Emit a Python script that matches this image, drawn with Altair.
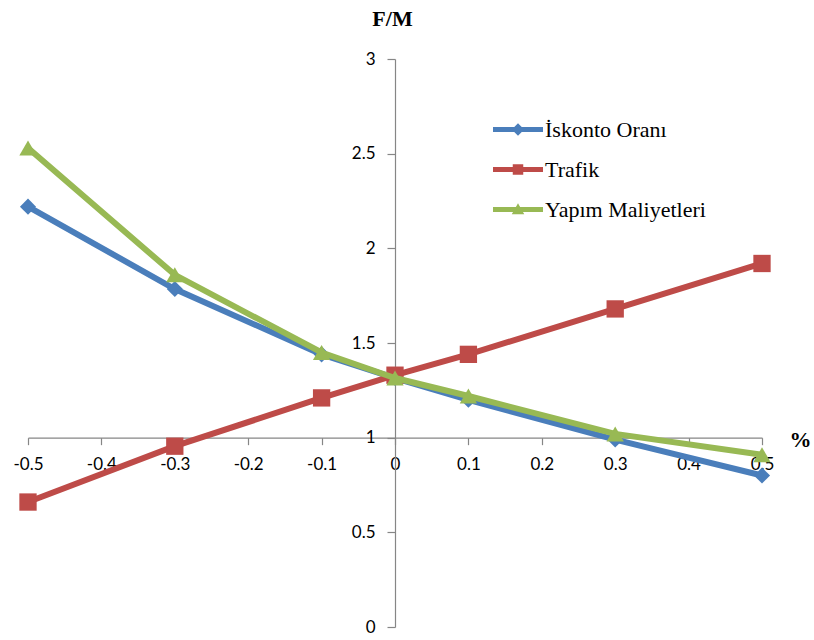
import altair as alt
import pandas as pd

x_values = [-0.5, -0.3, -0.1, 0.0, 0.1, 0.3, 0.5]
series_names = ["İskonto Oranı", "Trafik", "Yapım Maliyetleri"]
iskonto = [2.22, 1.785, 1.44, 1.315, 1.20, 0.99, 0.80]
trafik = [0.66, 0.955, 1.21, 1.33, 1.44, 1.68, 1.92]
yapim = [2.53, 1.86, 1.45, 1.315, 1.22, 1.02, 0.91]
x_ticks = [-0.5, -0.4, -0.3, -0.2, -0.1, 0.0, 0.1, 0.2, 0.3, 0.4, 0.5]
y_ticks = [0, 0.5, 1, 1.5, 2, 2.5, 3]

colors = ["#4A7EBB", "#BE4B48", "#98B954"]
point_shapes = ["diamond", "square", "triangle-up"]
point_sizes = [260, 300, 300]
# legend symbols: a horizontal bar with the marker in its middle
legend_shapes = [
    "M -3 -0.2 L 1 -0.2 L 1 0.2 L -3 0.2 Z M -1 -0.5 L -0.5 0 L -1 0.5 L -1.5 0 Z",
    "M -3 -0.2 L 1 -0.2 L 1 0.2 L -3 0.2 Z M -1.42 -0.42 L -0.58 -0.42 L -0.58 0.42 L -1.42 0.42 Z",
    "M -3 -0.2 L 1 -0.2 L 1 0.2 L -3 0.2 Z M -1 -0.5 L -0.5 0.38 L -1.5 0.38 Z",
]

rows = []
for name, vals in zip(series_names, [iskonto, trafik, yapim]):
    for xv, yv in zip(x_values, vals):
        rows.append({"x": xv, "y": yv, "series": name})
df = pd.DataFrame(rows)

W, H = 734, 568
x_scale = alt.Scale(domain=[-0.5, 0.5], nice=False, zero=False)
y_scale = alt.Scale(domain=[0, 3], nice=False)

label_font = "Lato"
title_font = "Liberation Serif"

x_axis = alt.Axis(
    values=x_ticks, grid=False, offset=-H / 3, orient="bottom",
    labelExpr="datum.value == 0 ? '0' : '' + datum.value",
    labelFont=label_font, labelFontSize=17, labelColor="#000000",
    labelPadding=12, tickSize=7, tickColor="#868686", domainColor="#868686",
    domainWidth=1.2, tickWidth=1.2,
    title="%", titleFont=title_font, titleFontSize=22, titleFontWeight="bold",
    titleColor="#000000", titleAngle=0, titleX=W + 38, titleY=2,
    titleAlign="center", titleBaseline="middle", labelFlush=False,
)
y_axis = alt.Axis(
    values=y_ticks, grid=False, offset=-W / 2, orient="left",
    labelExpr="'' + datum.value",
    labelFont=label_font, labelFontSize=17, labelColor="#000000",
    labelPadding=12, tickSize=8, tickColor="#868686", domainColor="#868686",
    domainWidth=1.2, tickWidth=1.2,
    title="F/M", titleFont=title_font, titleFontSize=22, titleFontWeight="bold",
    titleColor="#000000", titleAngle=0, titleX=-3, titleY=-41,
    titleAlign="center", titleBaseline="middle", labelFlush=False,
)

base = alt.Chart(df)
layers = []
for i, name in enumerate(series_names):
    sub = base.transform_filter(alt.datum.series == name)
    if i == 0:
        enc_x = alt.X("x:Q", scale=x_scale, axis=x_axis)
        enc_y = alt.Y("y:Q", scale=y_scale, axis=y_axis)
    else:
        enc_x = alt.X("x:Q", scale=x_scale)
        enc_y = alt.Y("y:Q", scale=y_scale)
    line = sub.mark_line(strokeWidth=6, color=colors[i]).encode(x=enc_x, y=enc_y)
    pts = sub.mark_point(
        filled=True, shape=point_shapes[i], size=point_sizes[i],
        color=colors[i], opacity=1,
    ).encode(x=alt.X("x:Q", scale=x_scale), y=alt.Y("y:Q", scale=y_scale))
    layers += [line, pts]

leg = alt.Legend(
    title=None, orient="none", legendX=490, legendY=58,
    padding=0, rowPadding=16, symbolSize=625, symbolStrokeWidth=0,
    symbolOpacity=1, labelFont=title_font, labelFontSize=22,
    labelColor="#000000", labelOffset=2, labelBaseline="middle",
    labelLimit=400,
)
legend_layer = base.transform_filter("datum.x > 100").mark_point(filled=True).encode(
    x=alt.X("x:Q", scale=x_scale),
    y=alt.Y("y:Q", scale=y_scale),
    color=alt.Color("series:N", scale=alt.Scale(domain=series_names, range=colors), legend=leg),
    shape=alt.Shape("series:N", scale=alt.Scale(domain=series_names, range=legend_shapes), legend=leg),
)

chart = alt.layer(*layers, legend_layer).properties(
    width=W, height=H,
    background="#ffffff",
    autosize=alt.AutoSizeParams(type="none"),
    padding={"left": 28, "top": 59, "right": 52, "bottom": 13},
).configure_view(stroke=None)

chart.save("out.html", embed_options={"renderer": "svg", "actions": False})
